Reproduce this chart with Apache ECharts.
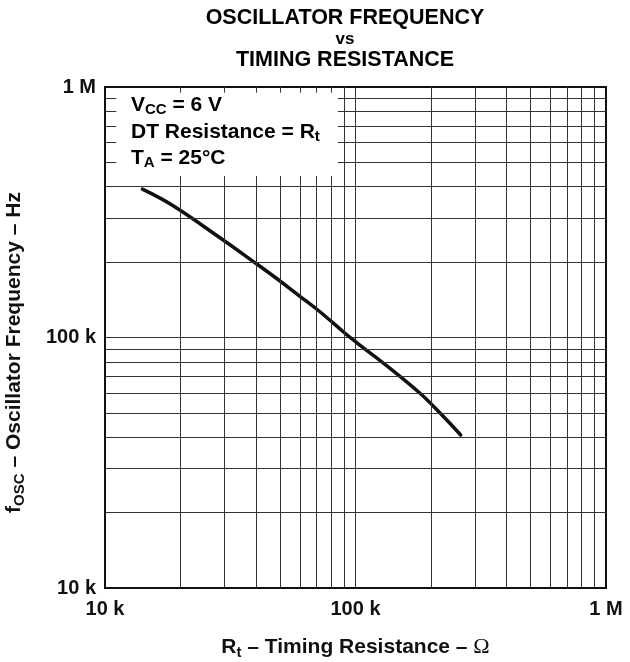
<!DOCTYPE html>
<html><head><meta charset="utf-8">
<script src="https://cdn.jsdelivr.net/npm/echarts@6/dist/echarts.min.js"></script>
<style>html,body{margin:0;padding:0;background:#fff}#c{width:630px;height:662px}</style>
</head><body><div id="c"></div>
<script>
// Curve: timing resistance (ohm) vs oscillator frequency (Hz)
const resistance = [14.1e3, 18.5e3, 28.3e3, 39.1e3, 49.2e3, 60.0e3, 71.9e3, 90.8e3, 101e3, 137e3, 181e3, 218e3, 263e3];
const frequency  = [391e3, 338e3, 253e3, 201e3, 170e3, 146e3, 127e3, 104e3, 95.5e3, 75.5e3, 59.9e3, 49.8e3, 40.8e3];

// Axis ticks
const tickValues = [1e4, 1e5, 1e6];
const tickLabels = ['10 k', '100 k', '1 M'];

// Minor grid lines (both axes)
const gridX = [2e4, 3e4, 4e4, 5e4, 6e4, 7e4, 8e4, 9e4, 2e5, 3e5, 4e5, 5e5, 6e5, 7e5, 8e5, 9e5];
const gridY = [2e4, 3e4, 4e4, 5e4, 6e4, 7e4, 8e4, 9e4, 2e5, 3e5, 4e5, 5e5, 6e5, 7e5, 8e5, 9e5];

// Legend-box extents (in data units) and inner tick lengths
const boxRightVal = 85e3, boxBottomVal = 441e3, topTickVal = 950e3, leftTickVal = 11.1e3;
const AXMIN = 1e4, AXMAX = 1e6;

const gridLines = [];
gridX.forEach(v => {
  if (v < boxRightVal) {
    gridLines.push([{coord: [v, AXMIN]}, {coord: [v, boxBottomVal]}]);
    gridLines.push([{coord: [v, AXMAX]}, {coord: [v, topTickVal]}]);
  } else gridLines.push({xAxis: v});
});
gridY.forEach(v => {
  if (v > boxBottomVal) {
    gridLines.push([{coord: [boxRightVal, v]}, {coord: [AXMAX, v]}]);
    gridLines.push([{coord: [AXMIN, v]}, {coord: [leftTickVal, v]}]);
  } else gridLines.push({yAxis: v});
});

const FONT = 'Liberation Sans, Arial, sans-serif';
const INK = '#111';
const labelFmt = v => { const i = tickValues.findIndex(t => Math.abs(t - v) / t < 1e-6); return i >= 0 ? tickLabels[i] : ''; };
const richName = {
  b: {fontFamily: FONT, fontWeight: 'bold', fontSize: 21, color: INK},
  s: {fontFamily: FONT, fontWeight: 'bold', fontSize: 15, color: INK, padding: [10, 0, 0, 0]},
  o: {fontFamily: 'Liberation Serif, serif', fontWeight: 'normal', fontSize: 22, color: INK}
};

const chart = echarts.init(document.getElementById('c'), null, {renderer: 'canvas'});
chart.setOption({
  animation: false,
  backgroundColor: '#fff',
  grid: {left: 105, top: 87, width: 501, height: 501, containLabel: false, outerBoundsMode: 'none',
         show: true, borderColor: INK, borderWidth: 2, backgroundColor: 'transparent', z: 5},
  xAxis: {
    type: 'log', logBase: 10, min: AXMIN, max: AXMAX,
    axisLine: {show: false}, axisTick: {show: false},
    splitLine: {show: true, lineStyle: {color: '#333', width: 1}},
    axisLabel: {formatter: labelFmt, fontFamily: FONT, fontWeight: 'bold', fontSize: 20, color: INK, margin: 11},
    name: '{b|R}{s|t}{b| – Timing Resistance – }{o|Ω}',
    nameLocation: 'middle', nameGap: 47,
    nameTextStyle: {rich: richName}
  },
  yAxis: {
    type: 'log', logBase: 10, min: AXMIN, max: AXMAX,
    axisLine: {show: false}, axisTick: {show: false},
    splitLine: {show: true, lineStyle: {color: '#333', width: 1}},
    axisLabel: {formatter: labelFmt, fontFamily: FONT, fontWeight: 'bold', fontSize: 20, color: INK, margin: 9},
    name: '{b|f}{s|OSC}{b| – Oscillator Frequency – Hz}',
    nameLocation: 'middle', nameGap: 78, nameRotate: 90,
    nameTextStyle: {rich: richName, padding: [0, 30, 0, 0]}
  },
  graphic: [
    {type: 'text', x: 345, y: 8, style: {
      text: '{a|OSCILLATOR FREQUENCY}\n{v|vs}\n{a|TIMING RESISTANCE}', textAlign: 'center',
      rich: {a: {fontFamily: FONT, fontWeight: 'bold', fontSize: 21.5, lineHeight: 21, color: INK},
             v: {fontFamily: FONT, fontWeight: 'bold', fontSize: 17, lineHeight: 21, color: INK}}
    }},
    {type: 'text', x: 131, y: 92, z: 10, style: {
      text: '{b|V}{s|CC}{b| = 6 V}\n{b|DT Resistance = R}{s|t}\n{b|T}{s|A}{b| = 25°C}',
      rich: {
        b: {fontFamily: FONT, fontWeight: 'bold', fontSize: 21, lineHeight: 26.5, color: INK},
        s: {fontFamily: FONT, fontWeight: 'bold', fontSize: 15, lineHeight: 26.5, color: INK, padding: [10, 0, 0, 0]}
      }
    }}
  ],
  series: [
    {type: 'line', data: [], silent: true, z: 1,
     markLine: {silent: true, symbol: ['none', 'none'], animation: false, label: {show: false},
                lineStyle: {type: 'solid', color: '#333', width: 1}, emphasis: {disabled: true},
                data: gridLines}},
    {type: 'line', z: 3, data: resistance.map((r, i) => [r, frequency[i]]),
     showSymbol: false, smooth: 0.4, silent: true,
     lineStyle: {color: INK, width: 3.5, cap: 'round'}}
  ]
});
</script></body></html>
